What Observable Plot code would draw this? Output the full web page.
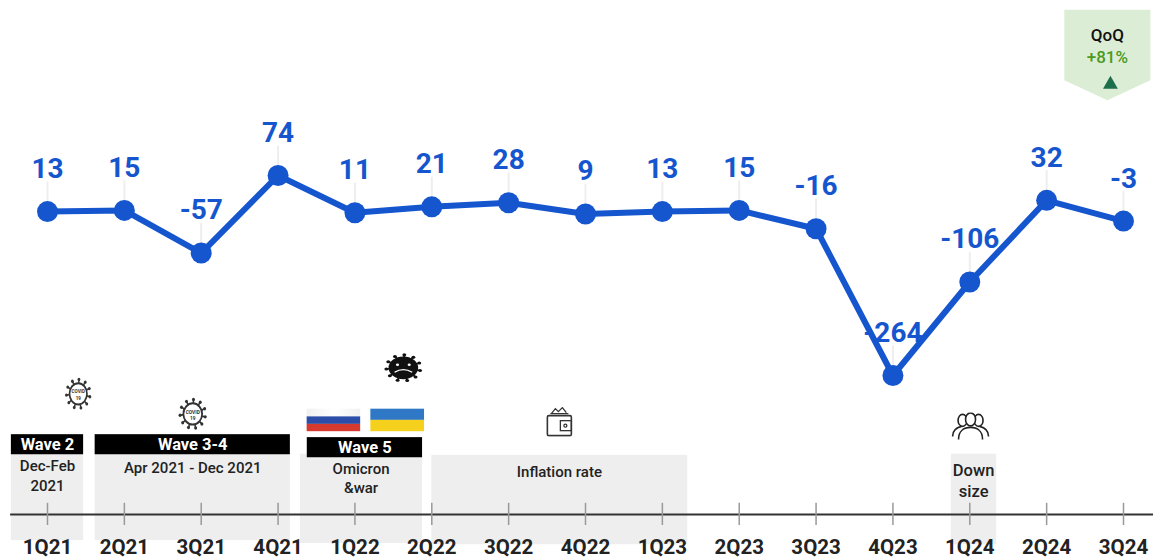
<!DOCTYPE html>
<html>
<head>
<meta charset="utf-8">
<script src="https://cdn.jsdelivr.net/npm/d3@7"></script>
<script src="https://cdn.jsdelivr.net/npm/@observablehq/plot@0.6"></script>
<style>
html,body{margin:0;padding:0;background:#fff;overflow:hidden}
svg{display:block}
</style>
</head>
<body>
<div id="chart"></div>
<script>
const quarters = ["1Q21","2Q21","3Q21","4Q21","1Q22","2Q22","3Q22","4Q22","1Q23","2Q23","3Q23","4Q23","1Q24","2Q24","3Q24"];
const values = [13,15,-57,74,11,21,28,9,13,15,-16,-264,-106,32,-3];

const bandNames = ["Dec-Feb\n2021","Apr 2021 - Dec 2021","Omicron\n&war","Inflation rate","Down\nsize"];
const bandStart = [-0.47,0.62,3.29,5.0,11.76];
const bandEnd = [0.47,3.16,4.88,8.33,12.35];
const bandTop = [-399,-399,-397,-399,-397];
const bandBottom = [-543,-543,-548,-550,-550];
const bandLabelX = [0,1.89,4.08,6.66,12.05];
const bandLabelY = [-432,-419,-437,-426,-441];
const bandLabelSize = [15,15,15,15,16.5];

const waveNames = ["Wave 2","Wave 3-4","Wave 5"];
const waveStart = [-0.47,0.62,3.38];
const waveEnd = [0.47,3.16,4.88];
const waveTop = [-364,-364,-369];
const waveBottom = [-398,-398,-403];

const bands = bandNames.map((name,i)=>({name,x1:bandStart[i],x2:bandEnd[i],y1:bandTop[i],y2:bandBottom[i],lx:bandLabelX[i],ly:bandLabelY[i],size:bandLabelSize[i]}));
const waves = waveNames.map((name,i)=>({name,x1:waveStart[i],x2:waveEnd[i],y1:waveTop[i],y2:waveBottom[i]}));
const rows = quarters.map((q,i)=>({i,q,v:values[i]}));

const blue = "#1556cf";
const axisLevel = -499, tickTop = -480, tickBottom = -517.5, labelLevel = -555;
const leader = 50;

function uri(svg){return "data:image/svg+xml;utf8,"+encodeURIComponent(svg);}
function virus(fill,stroke,face,body,spike){
  let s = `<svg xmlns="http://www.w3.org/2000/svg" viewBox="0 0 40 40">`;
  for(let k=0;k<11;k++){
    const a=k*2*Math.PI/11+0.2, c=Math.cos(a), d=Math.sin(a);
    s+=`<line x1="${20+body*c}" y1="${20+body*d}" x2="${20+spike*c}" y2="${20+spike*d}" stroke="${stroke}" stroke-width="2"/><circle cx="${20+spike*c}" cy="${20+spike*d}" r="2" fill="${stroke}"/>`;
  }
  s+=`<circle cx="20" cy="20" r="${body}" fill="${fill}" stroke="${stroke}" stroke-width="2.4"/>`+face+`</svg>`;
  return uri(s);
}
const covidFace = `<text x="20" y="19.5" font-size="6.5" font-weight="700" text-anchor="middle" font-family="Roboto" fill="#333">COVID</text><text x="20" y="27" font-size="6.5" font-weight="700" text-anchor="middle" font-family="Roboto" fill="#333">19</text>`;
const sadFace = `<circle cx="14" cy="16" r="1.6" fill="#fff"/><circle cx="26" cy="16" r="1.6" fill="#fff"/><path d="M11 26 Q20 19 29 26" stroke="#fff" stroke-width="1.6" fill="none"/>`;
const gradient = (id,a,b)=>`<defs><linearGradient id="${id}" x1="0" x2="1" y1="0" y2="0"><stop offset="0" stop-color="${a}"/><stop offset="0.5" stop-color="${b}"/><stop offset="1" stop-color="${a}"/></linearGradient></defs>`;
const russia = uri(`<svg xmlns="http://www.w3.org/2000/svg" viewBox="0 0 54 23" preserveAspectRatio="none">${gradient("w","#f0f0f0","#ffffff")}<rect width="54" height="8" fill="url(#w)"/><rect y="8" width="54" height="7.5" fill="#2c4ea8"/><rect y="15.5" width="54" height="7.5" fill="#d63a2f"/></svg>`);
const ukraine = uri(`<svg xmlns="http://www.w3.org/2000/svg" viewBox="0 0 54 23" preserveAspectRatio="none"><rect width="54" height="11.5" fill="#2f78c6"/><rect y="11.5" width="54" height="11.5" fill="#f5d01c"/></svg>`);
const wallet = uri(`<svg xmlns="http://www.w3.org/2000/svg" viewBox="0 0 28 30" fill="none" stroke="#333" stroke-width="1.3"><path d="M6 7 L10 2 L13 5 L17 1 L21 6"/><path d="M5 7 H23"/><rect x="2" y="9" width="24" height="20" rx="1.5" stroke-width="1.6"/><rect x="15" y="14" width="11" height="10"/><circle cx="20" cy="19" r="1.5"/></svg>`);
const people = uri(`<svg xmlns="http://www.w3.org/2000/svg" viewBox="0 0 40 28" fill="none" stroke="#222" stroke-width="1.6"><ellipse cx="12" cy="8" rx="4.5" ry="6"/><ellipse cx="28" cy="8" rx="4.5" ry="6"/><ellipse cx="20" cy="7" rx="5" ry="6.5" fill="#fff"/><path d="M2 24 C2 17 7 15 11 14"/><path d="M38 24 C38 17 33 15 29 14"/><path d="M8 27 C8 18 14 15 20 15 C26 15 32 18 32 27" fill="#fff"/></svg>`);

const icons = [
  {x:0.40,y:-295,src:virus("#fff","#333",covidFace,12.5,17),w:28,h:34},
  {x:1.89,y:-329,src:virus("#fff","#333",covidFace,12.5,17),w:30,h:34},
  {x:4.63,y:-251,src:virus("#111","#111",sadFace,14,17.5),w:39,h:30},
  {x:3.72,y:-339,src:russia,w:54,h:23},
  {x:4.55,y:-339,src:ukraine,w:54,h:23},
  {x:6.66,y:-342,src:wallet,w:28,h:30},
  {x:12.01,y:-350,src:people,w:40,h:28}
];
const badge = [
  {x:13.23,y:354},{x:14.35,y:354},{x:14.35,y:235},{x:13.79,y:201},{x:13.23,y:235},{x:13.23,y:354}
];

const font = "Roboto";
const chart = Plot.plot({
  width:1153,height:560,
  marginTop:0,marginRight:0,marginBottom:0,marginLeft:0,
  style:{fontFamily:font,background:"#fff"},
  x:{type:"linear",domain:[0,14],range:[47,1123],axis:null},
  y:{type:"linear",domain:[-264,74],range:[375,175],axis:null},
  marks:[
    Plot.rect(bands,{x1:"x1",x2:"x2",y1:"y1",y2:"y2",fill:"#eeeeee"}),
    Plot.rect(waves,{x1:"x1",x2:"x2",y1:"y1",y2:"y2",fill:"#000"}),
    Plot.text(waves,{x:d=>(d.x1+d.x2)/2,y:d=>(d.y1+d.y2)/2,text:"name",fill:"#fff",fontSize:16.5,fontWeight:700}),
    Plot.text(bands,{x:"lx",y:"ly",text:"name",fontSize:"size",fill:"#222",fontWeight:500,lineHeight:1.27}),
    Plot.ruleY([axisLevel],{x1:-0.48,x2:14.5,stroke:"#333",strokeWidth:2}),
    Plot.ruleX(rows,{x:"i",y1:tickTop,y2:tickBottom,stroke:"#999",strokeWidth:1.5}),
    Plot.text(rows,{x:"i",y:labelLevel,text:"q",fontSize:20.5,fontWeight:700,fill:"#222"}),
    Plot.ruleX(rows,{x:"i",y1:"v",y2:d=>d.v+leader,stroke:"#eeeeee",strokeWidth:2}),
    Plot.line(rows,{x:"i",y:"v",stroke:blue,strokeWidth:6,curve:"linear"}),
    Plot.dot(rows,{x:"i",y:"v",r:10.5,fill:blue}),
    Plot.text(rows,{x:"i",y:"v",text:d=>String(d.v),dy:-42.5,fontSize:28,fontWeight:700,fill:blue}),
    Plot.image(icons,{x:"x",y:"y",src:"src",width:"w",height:"h",preserveAspectRatio:"none"}),
    Plot.line(badge,{x:"x",y:"y",fill:"#dcedd5",stroke:"none"}),
    Plot.text(["QoQ"],{x:[13.79],y:[310],fontSize:17,fontWeight:500,fill:"#111"}),
    Plot.text(["+81%"],{x:[13.79],y:[273],fontSize:17,fontWeight:500,fill:"#4a9a1e"}),
    Plot.dot([0],{x:[13.83],y:[228],symbol:"triangle",r:5.5,fill:"#1d6f4b"})
  ]
});
document.getElementById("chart").appendChild(chart);
</script>
</body>
</html>
